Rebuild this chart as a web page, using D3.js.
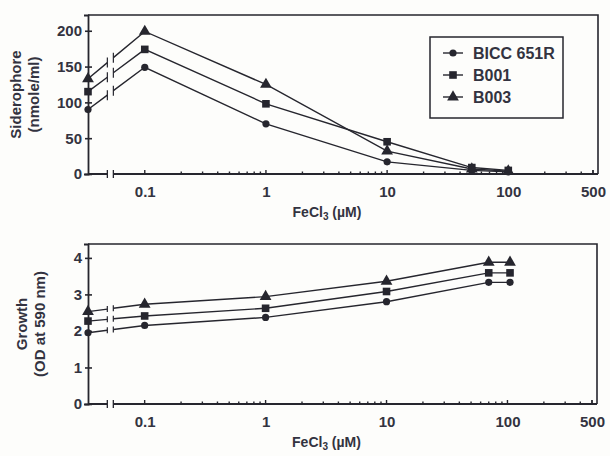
<!DOCTYPE html>
<html><head><meta charset="utf-8">
<script src="https://cdn.jsdelivr.net/npm/d3@7"></script>
<style>
body{margin:0;background:#fdfdfb;}
text{font-family:"Liberation Sans Narrow","Arial Narrow","Liberation Sans",sans-serif;font-weight:bold;fill:#333340;}
</style></head><body>
<svg id="c" width="610" height="456"></svg>
<script>
// ---- data ----
const seriesNames = ["BICC 651R", "B001", "B003"];
const markerTypes = ["circle", "square", "triangle"];
const xTickValues = [0.1, 1, 10, 100, 500];
const xTickLabels = ["0.1", "1", "10", "100", "500"];
// "control" = no FeCl3 (plotted left of the axis break)
const sideroConc = ["control", 0.1, 1, 10, 50, 100];
const sideroBICC = [90, 149, 70, 17, 5, 3];
const sideroB001 = [115, 174, 98, 45, 9, 5];
const sideroB003 = [133, 199, 125, 32, 7, 4];
const sideroTicks = [0, 50, 100, 150, 200];
const growthConc = ["control", 0.1, 1, 10, 70, 105];
const growthBICC = [1.95, 2.15, 2.37, 2.80, 3.33, 3.33];
const growthB001 = [2.27, 2.41, 2.62, 3.08, 3.59, 3.59];
const growthB003 = [2.53, 2.73, 2.94, 3.36, 3.88, 3.88];
const growthTicks = [0, 1, 2, 3, 4];
const xDomain = [0.034, 550];
const breakAt = 0.052;

const svg = d3.select("#c");
const ink = "#26262e";

function panel(cfg) {
  const g = svg.append("g");
  const x = d3.scaleLog().domain(xDomain).range([cfg.left, cfg.right]);
  const y = d3.scaleLinear().domain(cfg.yDomain).range([cfg.bottom, cfg.top]);
  const px = c => c === "control" ? x(xDomain[0]) : x(c);
  const xb = x(breakAt);
  const gap = 3;

  // frame: top and right border
  g.append("path").attr("d", `M${cfg.left},${cfg.top}H${cfg.right}V${cfg.bottom}`)
    .attr("fill", "none").attr("stroke", ink).attr("stroke-width", 1.6);
  // left axis
  const ya = d3.axisLeft(y).tickValues(cfg.yTicks).tickSize(4).tickFormat(d3.format("d"));
  const yg = g.append("g").attr("transform", `translate(${cfg.left},0)`).call(ya);
  yg.select(".domain").attr("stroke", ink).attr("stroke-width", 1.8);
  yg.selectAll(".tick line").attr("stroke", ink).attr("stroke-width", 1.6).attr("x2", 4).attr("x1", -3);
  yg.selectAll(".tick text").attr("x", -6).attr("font-size", 15).attr("fill", "#333340");

  // bottom axis with break
  const minor = [];
  [0.1, 1, 10, 100].forEach(d => { for (let k = 2; k <= 9; k++) if (d * k < xDomain[1]) minor.push(d * k); });
  const xa = d3.axisBottom(x).tickValues(xTickValues).tickSize(0)
    .tickFormat((d, i) => xTickLabels[i]);
  const xg = g.append("g").attr("transform", `translate(0,${cfg.bottom})`).call(xa);
  xg.select(".domain").remove();
  xg.selectAll(".tick text").attr("dy", "1.3em").attr("font-size", 15).attr("fill", "#333340");
  g.append("path").attr("d", `M${cfg.left},${cfg.bottom}H${xb - gap}M${xb + gap},${cfg.bottom}H${cfg.right}`)
    .attr("stroke", ink).attr("stroke-width", 2);
  g.append("path").attr("d", `M${xb - gap},${cfg.bottom - 4}V${cfg.bottom + 4}M${xb + gap},${cfg.bottom - 4}V${cfg.bottom + 4}`)
    .attr("stroke", ink).attr("stroke-width", 1.3);
  g.selectAll(".minor").data(minor.concat(xTickValues)).join("line")
    .attr("x1", d => x(d)).attr("x2", d => x(d))
    .attr("y1", cfg.bottom).attr("y2", d => cfg.bottom - (xTickValues.includes(d) ? 4 : 2.5))
    .attr("stroke", ink).attr("stroke-width", 1.4);

  // axis titles
  const xt = g.append("text").attr("x", (cfg.left + cfg.right) / 2 - 16).attr("y", cfg.bottom + 43)
    .attr("text-anchor", "middle").attr("font-size", 14);
  xt.append("tspan").text("FeCl");
  xt.append("tspan").text("3").attr("font-size", 10).attr("dy", 3);
  xt.append("tspan").text(" (µM)").attr("dy", -3);
  const cy = (cfg.top + cfg.bottom) / 2 + cfg.yLabelShift;
  cfg.yLabel.forEach((t, i) => {
    g.append("text").attr("transform", `translate(${cfg.yLabelX[i]},${cy}) rotate(-90)`)
      .attr("text-anchor", "middle").attr("font-size", 15).text(t);
  });

  // series
  cfg.values.forEach((vals, si) => {
    const pts = vals.map((v, i) => [px(cfg.conc[i]), y(v)]);
    const [p0, p1] = [pts[0], pts[1]];
    const at = xx => p0[1] + (p1[1] - p0[1]) * (xx - p0[0]) / (p1[0] - p0[0]);
    const a = xb - gap, b = xb + gap;
    g.append("path").attr("d", `M${p0[0]},${p0[1]}L${a},${at(a)}M${b},${at(b)}` + "L" + pts.slice(1).map(p => p.join(",")).join("L"))
      .attr("fill", "none").attr("stroke", ink).attr("stroke-width", 1.4);
    g.append("path").attr("d", `M${a},${at(a) - cfg.breakH}V${at(a) + cfg.breakH}M${b},${at(b) - cfg.breakH}V${at(b) + cfg.breakH}`)
      .attr("stroke", ink).attr("stroke-width", 1.2);
    pts.forEach(p => drawMarker(g, markerTypes[si], p[0], p[1]));
  });
  return g;
}

function drawMarker(g, type, cx, cy) {
  if (type === "circle") g.append("circle").attr("cx", cx).attr("cy", cy).attr("r", 3.6).attr("fill", ink);
  else if (type === "square") g.append("rect").attr("x", cx - 3.8).attr("y", cy - 3.8).attr("width", 7.6).attr("height", 7.6).attr("fill", ink);
  else g.append("path").attr("d", d3.symbol(d3.symbolTriangle, 60)()).attr("transform", `translate(${cx},${cy})`).attr("fill", ink);
}

panel({
  left: 88, right: 598, top: 15, bottom: 174, yDomain: [0, 222], yTicks: sideroTicks,
  conc: sideroConc, values: [sideroBICC, sideroB001, sideroB003], breakH: 5,
  yLabel: ["Siderophore", "(nmole/ml)"], yLabelX: [21, 39], yLabelShift: 0
});
panel({
  left: 88, right: 597, top: 244, bottom: 404, yDomain: [0, 4.38], yTicks: growthTicks,
  conc: growthConc, values: [growthBICC, growthB001, growthB003], breakH: 3,
  yLabel: ["Growth", "(OD at 590 nm)"], yLabelX: [27, 45], yLabelShift: 0
});

// legend
const lg = svg.append("g");
lg.append("rect").attr("x", 430).attr("y", 37).attr("width", 133).attr("height", 81)
  .attr("fill", "#fdfdfb").attr("stroke", ink).attr("stroke-width", 1.5);
seriesNames.forEach((n, i) => {
  const yy = 53 + i * 22;
  lg.append("line").attr("x1", 443).attr("x2", 463).attr("y1", yy).attr("y2", yy).attr("stroke", ink).attr("stroke-width", 1.4);
  drawMarker(lg, markerTypes[i], 453, yy);
  lg.append("text").attr("x", 473).attr("y", yy + 5.5).attr("font-size", 16).text(n);
});
</script></body></html>
